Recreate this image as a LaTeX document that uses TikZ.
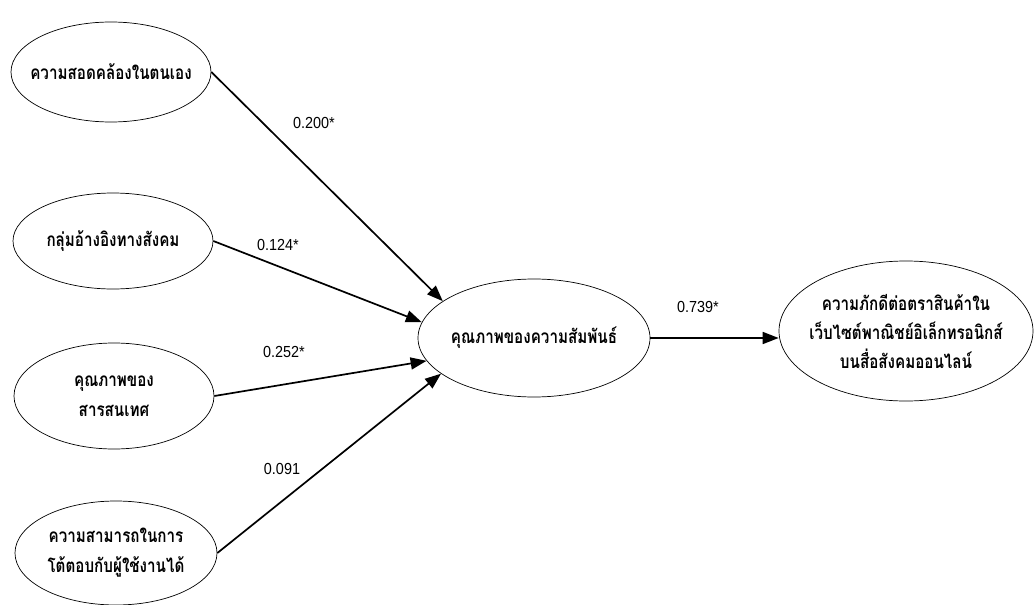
\documentclass[tikz,border=0pt]{standalone}
\usepackage{fontspec}
\setmainfont{Liberation Sans}
\newfontfamily\thaifont[Script=Thai,FakeStretch=0.8]{Loma}
\newfontfamily\coeffont[FakeStretch=0.9]{Liberation Sans}
\usetikzlibrary{shapes.geometric,arrows.meta}
\tikzset{
  var/.style={ellipse, draw, line width=0.7pt, inner sep=0pt},
  lbl/.style={align=center, inner sep=0pt,
    font=\thaifont\bfseries\fontsize{19}{30}\selectfont},
  path/.style={line width=1.7pt, -{Triangle[length=16pt,width=12pt]}},
  coef/.style={font=\coeffont\fontsize{16}{18}\selectfont}
}
\begin{document}
\begin{tikzpicture}[x=1pt,y=-1pt]
\useasboundingbox (0,0) rectangle (1034,605);
% exogenous constructs
\node[var, minimum width=200pt, minimum height=100pt] (e1) at (111,72) {};
\node[lbl] (t1) at (e1) {ความสอดคล้องในตนเอง};
\node[var, minimum width=200pt, minimum height=96pt] (e2) at (113,241) {};
\node[lbl] (t2) at (e2) {กลุ่มอ้างอิงทางสังคม};
\node[var, minimum width=200pt, minimum height=106pt] (e3) at (114,396) {};
\node[lbl] (t3) at (e3) {คุณภาพของ\\สารสนเทศ};
\node[var, minimum width=202pt, minimum height=104pt] (e4) at (116,553) {};
\node[lbl] (t4) at (e4) {ความสามารถในการ\\โต้ตอบกับผู้ใช้งานได้};
% mediator and outcome
\node[var, minimum width=232pt, minimum height=118pt] (c) at (534,338) {};
\node[lbl] (tc) at (c) {คุณภาพของความสัมพันธ์};
\node[var, minimum width=254pt, minimum height=140pt] (r) at (906,331) {};
\node[lbl, font=\thaifont\bfseries\fontsize{19}{29}\selectfont] (tr) at (r) {ความภักดีต่อตราสินค้าใน\\เว็บไซต์พาณิชย์อิเล็กทรอนิกส์\\บนสื่อสังคมออนไลน์};
% structural paths
\draw[path] (e1.east) -- (c.158);
\draw[path] (e2.east) -- (c.172);
\draw[path] (e3.east) -- (c.192);
\draw[path] (e4.east) -- (c.201);
\draw[path] (c.east) -- (c.east -| r.west);
% path coefficients
\node[coef] (k1) at (314,123) {0.200*};
\node[coef] (k2) at (278,245) {0.124*};
\node[coef] (k3) at (284,352) {0.252*};
\node[coef] (k4) at (282,469) {0.091};
\node[coef] (k5) at (698,307) {0.739*};
\end{tikzpicture}
\end{document}
